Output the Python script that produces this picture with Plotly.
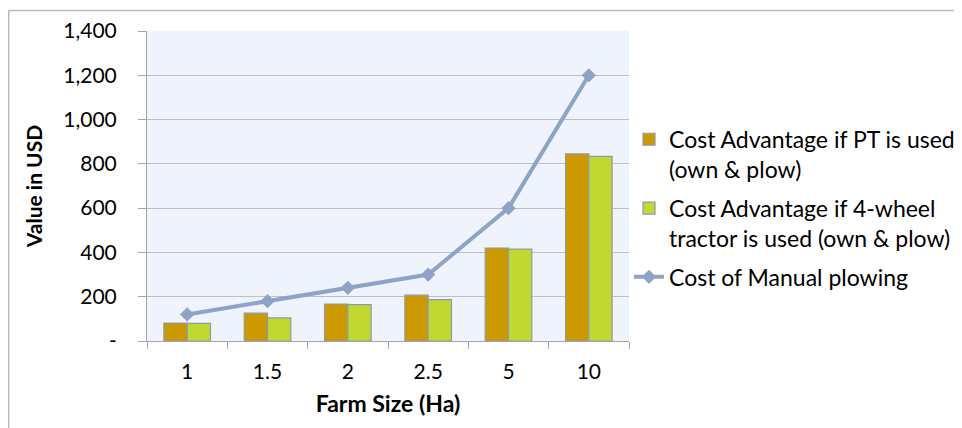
import plotly.graph_objects as go

categories = ["1", "1.5", "2", "2.5", "5", "10"]
pt_adv = [81, 126, 167, 207, 420, 845]
wheel4_adv = [80, 104, 164, 187, 415, 834]
manual_cost = [120, 180, 240, 300, 600, 1200]
y_tickvals = [0, 200, 400, 600, 800, 1000, 1200, 1400]
y_ticktext = ["-", "200", "400", "600", "800", "1,000", "1,200", "1,400"]

FONT = "Lato"
fig = go.Figure()
fig.add_trace(go.Bar(
    x=categories, y=pt_adv, legendgroup="a",
    name="Cost Advantage if PT is used<br>(own & plow)",
    marker=dict(color="#CC9900", line=dict(color="#8C9BB0", width=1.2)),
))
fig.add_trace(go.Bar(
    x=categories, y=wheel4_adv, legendgroup="b",
    name="Cost Advantage if 4-wheel<br>tractor is used (own & plow)",
    marker=dict(color="#C0D82F", line=dict(color="#8C9BB0", width=1.2)),
))
fig.add_trace(go.Scatter(
    x=categories, y=manual_cost, mode="lines+markers", legendgroup="c",
    name="Cost of Manual plowing",
    line=dict(color="#8EA3C6", width=4),
    marker=dict(symbol="diamond", size=11, color="#8EA3C6"),
))

W, H = 954, 420
fig.update_layout(
    width=W, height=H,
    margin=dict(l=139, r=333, t=23, b=87, autoexpand=False),
    paper_bgcolor="white",
    plot_bgcolor="#EFF3FB",
    barmode="group",
    bargap=0.42,
    bargroupgap=0,
    font=dict(family=FONT, size=21, color="black"),
    showlegend=True,
    legend=dict(
        x=1.0, xanchor="left", y=0.72, yanchor="top",
        font=dict(family=FONT, size=23, color="black"),
        bgcolor="rgba(0,0,0,0)",
        itemwidth=30,
        valign="top",
        traceorder="grouped",
        tracegroupgap=6,
    ),
    xaxis=dict(
        type="category", automargin=False,
        title=dict(text="<b>Farm Size (Ha)</b>", font=dict(size=23), standoff=13),
        showline=True, linecolor="#A6A6A6", linewidth=1,
        ticks="outside", tickson="boundaries", ticklen=7, tickcolor="#A6A6A6",
        ticklabelstandoff=12,
        showgrid=False,
        tickfont=dict(size=21),
    ),
    yaxis=dict(
        range=[0, 1400], automargin=False,
        tickvals=y_tickvals, ticktext=y_ticktext,
        title=dict(text="<b>Value in USD</b>", font=dict(size=21), standoff=14),
        showline=True, linecolor="#A6A6A6", linewidth=1,
        ticks="outside", ticklen=8, tickcolor="#A6A6A6",
        ticklabelstandoff=17,
        showgrid=True, gridcolor="#BFBFBF", gridwidth=1.3,
        zeroline=False,
        tickfont=dict(size=21),
    ),
    shapes=[
        dict(type="line", xref="paper", yref="paper",
             x0=(0.75 - 139) / 482, x1=(W - 139) / 482,
             y0=(310 + 23 - 2.5) / 310, y1=(310 + 23 - 2.5) / 310,
             line=dict(color="#B8B8B8", width=1.5)),
        dict(type="line", xref="paper", yref="paper",
             x0=(0.75 - 139) / 482, x1=(0.75 - 139) / 482,
             y0=(310 + 23 - 2.5) / 310, y1=-87 / 310,
             line=dict(color="#B8B8B8", width=1.5)),
    ],
)

fig.write_html("out.html")
